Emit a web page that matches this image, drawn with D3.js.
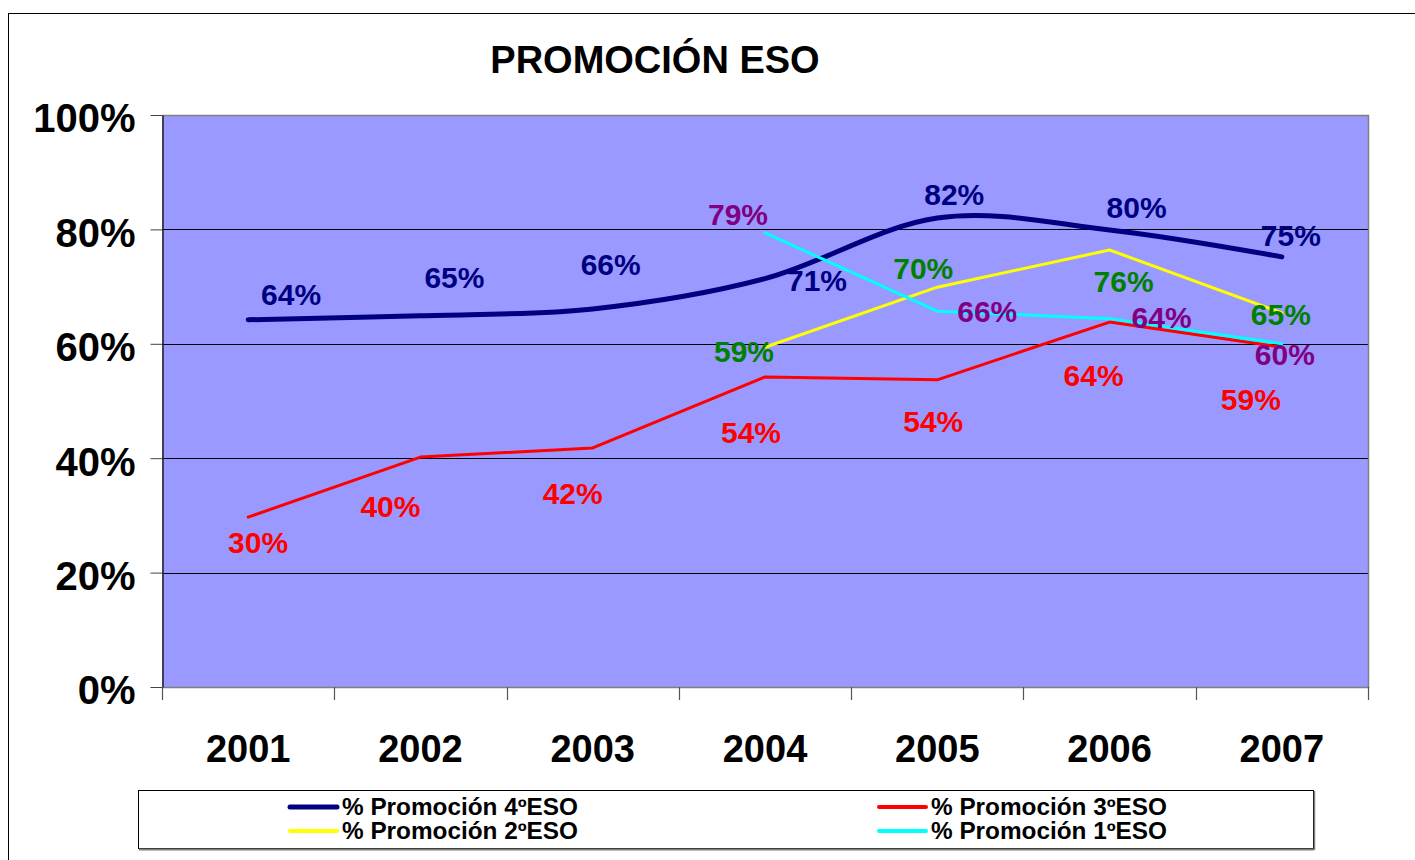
<!DOCTYPE html>
<html>
<head>
<meta charset="utf-8">
<script src="https://cdn.jsdelivr.net/npm/d3@7"></script>
<style>
  html, body { margin: 0; padding: 0; background: #fff; }
  svg { display: block; }
  text { font-family: "Liberation Sans", Arial, sans-serif; font-weight: bold; }
</style>
</head>
<body>
<script>
// ---- data ----
const years = ["2001", "2002", "2003", "2004", "2005", "2006", "2007"];
const promo4 = [64.2, 64.9, 66.1, 71.4, 82.0, 79.9, 75.2];
const promo3 = [29.7, 40.2, 41.8, 54.2, 53.7, 63.8, 59.4];
const promo2 = [null, null, null, 59.4, 69.9, 76.4, 65.4];
const promo1 = [null, null, null, 79.4, 65.7, 64.4, 60.0];
const yTicks = [0, 20, 40, 60, 80, 100];
const seriesNames = ["% Promoción 4ºESO", "% Promoción 3ºESO", "% Promoción 2ºESO", "% Promoción 1ºESO"];
const title = "PROMOCIÓN ESO";

// label placement offsets (px) relative to each point: [dx, dy-of-baseline]
const off4 = [[43,-15],[34,-28],[18,-34],[52,12],[17,-13],[27,-12],[9,-11]];
const off3 = [[10,36],[-30,60],[-20,56],[-14,66],[-4,52],[-16,64],[-31,63]];
const off2 = [null,null,null,[-21,15],[-14,-8],[14,42],[-1,12]];
const off1 = [null,null,null,[-27,-8],[50,11],[52,9],[3,21]];

const W = 1415, H = 860;
const svg = d3.select("body").append("svg").attr("width", W).attr("height", H);

// outer frame
svg.append("rect").attr("x", 8.5).attr("y", 13.5).attr("width", 1430).attr("height", 880)
  .attr("fill", "#fff").attr("stroke", "#000").attr("stroke-width", 1);

const L = 162, R = 1368, T = 115, B = 687;
const x = d3.scaleBand().domain(years).range([L, R]);
const y = d3.scaleLinear().domain([0, 100]).range([B, T]);
const cx = d => x(d) + x.bandwidth() / 2;

// plot area
svg.append("rect").attr("x", L).attr("y", T).attr("width", R - L).attr("height", B - T)
  .attr("fill", "#9999FF");

// gridlines
svg.append("g").selectAll("line").data(yTicks.filter(v => v > 0 && v < 100)).join("line")
  .attr("x1", L).attr("x2", R).attr("y1", d => Math.round(y(d)) + 0.5).attr("y2", d => Math.round(y(d)) + 0.5)
  .attr("stroke", "#000").attr("stroke-width", 1);

// plot border (top, right, bottom gray)
svg.append("path").attr("d", `M${L},${T + 0.5}H${R + 0.5}V${B + 0.5}H${L}`)
  .attr("fill", "none").attr("stroke", "#808080").attr("stroke-width", 1.5);

// y axis
const yAxis = d3.axisLeft(y).tickValues(yTicks).tickFormat(d => d + "%").tickSize(12).tickPadding(15).tickSizeOuter(0);
const gy = svg.append("g").attr("transform", `translate(${L + 0.5},0)`).call(yAxis);
gy.select(".domain").attr("stroke", "#222").attr("stroke-width", 1.5);
gy.selectAll(".tick line").attr("stroke", "#444");
gy.selectAll(".tick text").attr("font-size", 40).attr("fill", "#000").attr("dy", "0.42em")
  .style("font-family", '"Liberation Sans", Arial, sans-serif').style("font-weight", "bold");

// x axis: labels centered, ticks at band boundaries
const xAxis = d3.axisBottom(x).tickSize(0).tickPadding(48).tickSizeOuter(0);
const gx = svg.append("g").attr("transform", `translate(0,${B})`).call(xAxis);
gx.select(".domain").remove();
gx.selectAll(".tick text").attr("font-size", 38).attr("fill", "#000")
  .style("font-family", '"Liberation Sans", Arial, sans-serif').style("font-weight", "bold");
const bounds = years.map(d => x(d)).concat([x.range()[1]]);
svg.append("g").selectAll("line").data(bounds).join("line")
  .attr("x1", d => Math.round(d) + 0.5).attr("x2", d => Math.round(d) + 0.5)
  .attr("y1", B).attr("y2", B + 13).attr("stroke", "#555").attr("stroke-width", 1.2);

// title
svg.append("text").attr("x", 655).attr("y", 73).attr("text-anchor", "middle")
  .attr("font-size", 38).attr("fill", "#000").text(title);

// series
const series = [
  { vals: promo4, color: "#000080", width: 5, curve: d3.curveCatmullRom.alpha(0), label: "#000080", off: off4 },
  { vals: promo3, color: "#FF0000", width: 3, curve: d3.curveLinear, label: "#FF0000", off: off3 },
  { vals: promo2, color: "#FFFF00", width: 3, curve: d3.curveLinear, label: "#008000", off: off2 },
  { vals: promo1, color: "#00FFFF", width: 3, curve: d3.curveLinear, label: "#800080", off: off1 }
];

// draw lines in back-to-front order: 1º, 2º, 3º, 4º? Reference: blue on top of cyan crossing? cyan drawn above blue.
const drawOrder = [0, 1, 2, 3];
drawOrder.forEach(i => {
  const s = series[i];
  const pts = years.map((yr, k) => ({ yr, v: s.vals[k] })).filter(p => p.v != null);
  const line = d3.line().x(p => cx(p.yr)).y(p => y(p.v)).curve(s.curve);
  svg.append("path").datum(pts).attr("d", line).attr("fill", "none")
    .attr("stroke", s.color).attr("stroke-width", s.width)
    .attr("stroke-linecap", "round").attr("stroke-linejoin", "round");
});

// labels
series.forEach(s => {
  const pts = years.map((yr, k) => ({ yr, v: s.vals[k], o: s.off[k] })).filter(p => p.v != null);
  svg.append("g").selectAll("text").data(pts).join("text")
    .attr("x", p => cx(p.yr) + p.o[0]).attr("y", p => y(p.v) + p.o[1])
    .attr("text-anchor", "middle").attr("font-size", 30).attr("fill", s.label)
    .text(p => Math.round(p.v) + "%");
});

// legend
const lg = svg.append("g");
lg.append("rect").attr("x", 138.5).attr("y", 790.5).attr("width", 1175).attr("height", 58)
  .attr("fill", "#fff").attr("stroke", "#000").attr("stroke-width", 1);
lg.append("line").attr("x1", 139).attr("x2", 1314).attr("y1", 849.5).attr("y2", 849.5)
  .attr("stroke", "#808080").attr("stroke-width", 2);
lg.append("line").attr("x1", 1314.5).attr("x2", 1314.5).attr("y1", 791).attr("y2", 850)
  .attr("stroke", "#808080").attr("stroke-width", 1.5);
const legendPos = [[290, 807], [879, 807], [290, 831], [879, 831]];
series.forEach((s, i) => {
  const [lx, ly] = legendPos[i];
  lg.append("line").attr("x1", lx).attr("x2", lx + 47).attr("y1", ly).attr("y2", ly)
    .attr("stroke", s.color).attr("stroke-width", i === 0 ? 5 : 4).attr("stroke-linecap", "round");
  lg.append("text").attr("x", lx + 52).attr("y", ly + 8).attr("font-size", 23).attr("fill", "#000")
    .attr("textLength", 236).attr("lengthAdjust", "spacingAndGlyphs")
    .text(seriesNames[i]);
});
</script>
</body>
</html>
